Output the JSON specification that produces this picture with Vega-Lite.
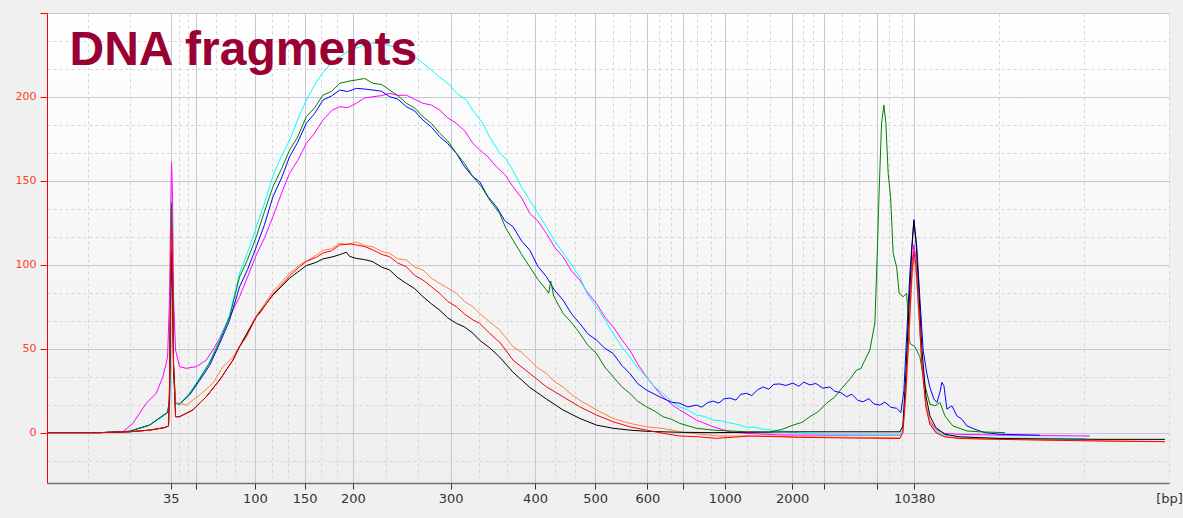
{
"$schema": "https://vega.github.io/schema/vega-lite/v6.json",
"width": 1122, "height": 470,
"autosize": {"type": "none"},
"padding": {"left": 47, "top": 13, "right": 14, "bottom": 35},
"background": "#f0f0f0",
"config": {"view": {"stroke": null, "fill": {"gradient": "linear", "x1": 0, "y1": 0, "x2": 0, "y2": 1, "stops": [{"offset": 0, "color": "#ffffff"}, {"offset": 1, "color": "#eeeeee"}]}}},
"layer": [
{
"data": {"values": [
{"s":"magenta","t":44.8,"v":0},{"s":"magenta","t":50,"v":0},{"s":"magenta","t":52.33,"v":0.5},{"s":"magenta","t":53.33,"v":5.5},{"s":"magenta","t":54,"v":11.5},{"s":"magenta","t":54.67,"v":17.5},{"s":"magenta","t":55.67,"v":23.4},{"s":"magenta","t":56.33,"v":33.3},{"s":"magenta","t":56.67,"v":41.3},{"s":"magenta","t":56.8,"v":45},{"s":"magenta","t":57,"v":80},{"s":"magenta","t":57.1,"v":130},{"s":"magenta","t":57.2,"v":161},{"s":"magenta","t":57.3,"v":140},{"s":"magenta","t":57.4,"v":80},{"s":"magenta","t":57.6,"v":49.2},{"s":"magenta","t":58,"v":39.3},{"s":"magenta","t":58.67,"v":38.3},{"s":"magenta","t":59.67,"v":39.3},{"s":"magenta","t":60.67,"v":43.2},{"s":"magenta","t":61.33,"v":49.2},{"s":"magenta","t":62,"v":56.2},{"s":"magenta","t":63.33,"v":73},{"s":"magenta","t":64,"v":81},{"s":"magenta","t":64.67,"v":90.9},{"s":"magenta","t":65.67,"v":105.8},{"s":"magenta","t":66.5,"v":116.2},{"s":"magenta","t":67.33,"v":128.6},{"s":"magenta","t":68.2,"v":142.8},{"s":"magenta","t":69,"v":154.5},{"s":"magenta","t":69.8,"v":162.1},{"s":"magenta","t":70.67,"v":172.3},{"s":"magenta","t":71.5,"v":178.4},{"s":"magenta","t":72.33,"v":186.2},{"s":"magenta","t":73.2,"v":191.9},{"s":"magenta","t":74,"v":194.2},{"s":"magenta","t":74.8,"v":193.6},{"s":"magenta","t":75.67,"v":196.2},{"s":"magenta","t":76.5,"v":199.4},{"s":"magenta","t":77.33,"v":200.1},{"s":"magenta","t":78.2,"v":200.8},{"s":"magenta","t":79,"v":202.1},{"s":"magenta","t":79.8,"v":200.9},{"s":"magenta","t":80.67,"v":201.1},{"s":"magenta","t":81.5,"v":198.6},{"s":"magenta","t":82.33,"v":196.2},{"s":"magenta","t":83.2,"v":195.1},{"s":"magenta","t":84,"v":192.2},{"s":"magenta","t":84.8,"v":187.6},{"s":"magenta","t":85.67,"v":184.3},{"s":"magenta","t":86.5,"v":179.8},{"s":"magenta","t":87.33,"v":172.3},{"s":"magenta","t":88,"v":168.4},{"s":"magenta","t":88.8,"v":164.5},{"s":"magenta","t":89.67,"v":158.4},{"s":"magenta","t":90.5,"v":153.8},{"s":"magenta","t":91.33,"v":146.5},{"s":"magenta","t":92.2,"v":139.8},{"s":"magenta","t":93,"v":130.6},{"s":"magenta","t":93.8,"v":126.2},{"s":"magenta","t":94.67,"v":118.7},{"s":"magenta","t":95.5,"v":110.3},{"s":"magenta","t":96.33,"v":104.8},{"s":"magenta","t":97.2,"v":96.1},{"s":"magenta","t":98,"v":90.9},{"s":"magenta","t":98.8,"v":83.2},{"s":"magenta","t":99.67,"v":77},{"s":"magenta","t":100.5,"v":68.9},{"s":"magenta","t":101.33,"v":63.1},{"s":"magenta","t":102.2,"v":55.4},{"s":"magenta","t":103,"v":49.2},{"s":"magenta","t":103.8,"v":40.8},{"s":"magenta","t":104.67,"v":33.3},{"s":"magenta","t":105.5,"v":26.9},{"s":"magenta","t":106.33,"v":21.4},{"s":"magenta","t":107.2,"v":16.8},{"s":"magenta","t":108,"v":13.5},{"s":"magenta","t":109.67,"v":7.5},{"s":"magenta","t":111.33,"v":3.5},{"s":"magenta","t":113,"v":0.5},{"s":"magenta","t":114.67,"v":-0.4},{"s":"magenta","t":118,"v":-1.4},{"s":"magenta","t":125,"v":-1.5},{"s":"magenta","t":130,"v":-1.5},{"s":"magenta","t":130.3,"v":2},{"s":"magenta","t":130.6,"v":30},{"s":"magenta","t":130.9,"v":70},{"s":"magenta","t":131.2,"v":100},{"s":"magenta","t":131.4,"v":112},{"s":"magenta","t":131.6,"v":104},{"s":"magenta","t":131.9,"v":75},{"s":"magenta","t":132.2,"v":42},{"s":"magenta","t":132.6,"v":17},{"s":"magenta","t":133,"v":7},{"s":"magenta","t":133.6,"v":2},{"s":"magenta","t":134.5,"v":-0.5},{"s":"magenta","t":136,"v":-1},{"s":"magenta","t":140,"v":-1.5},{"s":"magenta","t":145,"v":-1.8},{"s":"magenta","t":149,"v":-2},
{"s":"cyan","t":44.8,"v":0},{"s":"cyan","t":50,"v":0},{"s":"cyan","t":52,"v":0.3},{"s":"cyan","t":53,"v":0.8},{"s":"cyan","t":55,"v":4.5},{"s":"cyan","t":56.3,"v":9.5},{"s":"cyan","t":56.8,"v":12},{"s":"cyan","t":57,"v":18},{"s":"cyan","t":57.1,"v":70},{"s":"cyan","t":57.2,"v":118},{"s":"cyan","t":57.3,"v":90},{"s":"cyan","t":57.4,"v":35},{"s":"cyan","t":57.6,"v":17.6},{"s":"cyan","t":58,"v":17},{"s":"cyan","t":59,"v":23.6},{"s":"cyan","t":60,"v":32.5},{"s":"cyan","t":61,"v":42.1},{"s":"cyan","t":62,"v":55.2},{"s":"cyan","t":63,"v":70.1},{"s":"cyan","t":64,"v":95.1},{"s":"cyan","t":65,"v":110.6},{"s":"cyan","t":65.67,"v":122.5},{"s":"cyan","t":66.5,"v":136.8},{"s":"cyan","t":67.3,"v":152.3},{"s":"cyan","t":68,"v":162.4},{"s":"cyan","t":69,"v":174.3},{"s":"cyan","t":70,"v":189.2},{"s":"cyan","t":70.67,"v":198.1},{"s":"cyan","t":71.5,"v":207.1},{"s":"cyan","t":72.3,"v":214.2},{"s":"cyan","t":73,"v":219},{"s":"cyan","t":74,"v":223.8},{"s":"cyan","t":75,"v":227.9},{"s":"cyan","t":75.67,"v":229.1},{"s":"cyan","t":76.5,"v":230.9},{"s":"cyan","t":77.3,"v":232.1},{"s":"cyan","t":78.5,"v":231.5},{"s":"cyan","t":79.5,"v":229.7},{"s":"cyan","t":80.67,"v":227.9},{"s":"cyan","t":81.67,"v":223.2},{"s":"cyan","t":82.3,"v":220.2},{"s":"cyan","t":83.2,"v":215.9},{"s":"cyan","t":84,"v":211.8},{"s":"cyan","t":85,"v":207.1},{"s":"cyan","t":85.67,"v":202.3},{"s":"cyan","t":86.67,"v":198.1},{"s":"cyan","t":87.3,"v":192.2},{"s":"cyan","t":88.3,"v":184.4},{"s":"cyan","t":89,"v":176.1},{"s":"cyan","t":90,"v":166.6},{"s":"cyan","t":90.6,"v":163.2},{"s":"cyan","t":91.3,"v":156.5},{"s":"cyan","t":92.2,"v":146.1},{"s":"cyan","t":93,"v":138.6},{"s":"cyan","t":93.8,"v":130.9},{"s":"cyan","t":94.67,"v":122.5},{"s":"cyan","t":95.5,"v":114.1},{"s":"cyan","t":96.3,"v":107.6},{"s":"cyan","t":97.2,"v":99.8},{"s":"cyan","t":98,"v":92.7},{"s":"cyan","t":98.8,"v":82.1},{"s":"cyan","t":99.67,"v":74.8},{"s":"cyan","t":100.5,"v":67.4},{"s":"cyan","t":101.3,"v":59.3},{"s":"cyan","t":102.2,"v":51.2},{"s":"cyan","t":103,"v":45},{"s":"cyan","t":103.8,"v":38.6},{"s":"cyan","t":104.67,"v":33.1},{"s":"cyan","t":105.5,"v":27.2},{"s":"cyan","t":106.3,"v":23.6},{"s":"cyan","t":107.2,"v":18.4},{"s":"cyan","t":108,"v":15.2},{"s":"cyan","t":108.8,"v":13.6},{"s":"cyan","t":109.67,"v":10.5},{"s":"cyan","t":110.5,"v":9.6},{"s":"cyan","t":111.3,"v":7.5},{"s":"cyan","t":112.1,"v":7.1},{"s":"cyan","t":113,"v":5.7},{"s":"cyan","t":113.8,"v":4.9},{"s":"cyan","t":114.67,"v":3.3},{"s":"cyan","t":115.5,"v":3.2},{"s":"cyan","t":116.3,"v":2.1},{"s":"cyan","t":118,"v":1},{"s":"cyan","t":120,"v":-0.2},{"s":"cyan","t":123,"v":-1.1},{"s":"cyan","t":127,"v":-1.4},{"s":"cyan","t":130,"v":-1.5},{"s":"cyan","t":130.3,"v":2},{"s":"cyan","t":130.6,"v":30},{"s":"cyan","t":130.9,"v":65},{"s":"cyan","t":131.2,"v":95},{"s":"cyan","t":131.4,"v":106},{"s":"cyan","t":131.6,"v":98},{"s":"cyan","t":131.9,"v":70},{"s":"cyan","t":132.2,"v":40},{"s":"cyan","t":132.6,"v":16},{"s":"cyan","t":133,"v":6},{"s":"cyan","t":133.6,"v":1},{"s":"cyan","t":134.5,"v":-1.5},{"s":"cyan","t":136,"v":-2.5},{"s":"cyan","t":139,"v":-3},{"s":"cyan","t":144,"v":-3.3},{"s":"cyan","t":148.5,"v":-3.5},
{"s":"blue","t":44.8,"v":0},{"s":"blue","t":50,"v":0},{"s":"blue","t":53,"v":0.8},{"s":"blue","t":55,"v":4.5},{"s":"blue","t":56.3,"v":10},{"s":"blue","t":56.8,"v":12},{"s":"blue","t":57,"v":18},{"s":"blue","t":57.1,"v":70},{"s":"blue","t":57.2,"v":125},{"s":"blue","t":57.3,"v":95},{"s":"blue","t":57.4,"v":38},{"s":"blue","t":57.6,"v":17.5},{"s":"blue","t":58,"v":17},{"s":"blue","t":59,"v":22.5},{"s":"blue","t":60,"v":31},{"s":"blue","t":61,"v":40},{"s":"blue","t":62,"v":53},{"s":"blue","t":63,"v":67},{"s":"blue","t":64,"v":86.9},{"s":"blue","t":64.8,"v":97.2},{"s":"blue","t":65.67,"v":110.7},{"s":"blue","t":66.5,"v":124.1},{"s":"blue","t":67.33,"v":140.5},{"s":"blue","t":68.2,"v":151.8},{"s":"blue","t":69,"v":164.4},{"s":"blue","t":69.8,"v":172.9},{"s":"blue","t":70.67,"v":184.3},{"s":"blue","t":71.5,"v":190.2},{"s":"blue","t":72.33,"v":198.1},{"s":"blue","t":73.2,"v":200.6},{"s":"blue","t":74,"v":204.1},{"s":"blue","t":74.8,"v":203.2},{"s":"blue","t":75.67,"v":205.1},{"s":"blue","t":76.5,"v":204.7},{"s":"blue","t":77.33,"v":204.1},{"s":"blue","t":78.2,"v":203.4},{"s":"blue","t":79,"v":200.1},{"s":"blue","t":79.8,"v":198.8},{"s":"blue","t":80.67,"v":194.2},{"s":"blue","t":81.5,"v":191.6},{"s":"blue","t":82.33,"v":186.2},{"s":"blue","t":83.2,"v":181.9},{"s":"blue","t":84,"v":176.3},{"s":"blue","t":84.8,"v":172.2},{"s":"blue","t":85.67,"v":166.4},{"s":"blue","t":86.5,"v":158.3},{"s":"blue","t":87.33,"v":152.4},{"s":"blue","t":88,"v":149.5},{"s":"blue","t":88.8,"v":140.8},{"s":"blue","t":89.67,"v":134.6},{"s":"blue","t":90.5,"v":126.3},{"s":"blue","t":91.33,"v":122.7},{"s":"blue","t":92.2,"v":114.1},{"s":"blue","t":93,"v":108.8},{"s":"blue","t":93.8,"v":99.2},{"s":"blue","t":94.67,"v":92.9},{"s":"blue","t":95.5,"v":84.7},{"s":"blue","t":96.33,"v":79},{"s":"blue","t":97.2,"v":70.6},{"s":"blue","t":98,"v":65.1},{"s":"blue","t":98.8,"v":58.9},{"s":"blue","t":99.67,"v":55.2},{"s":"blue","t":100.5,"v":50.3},{"s":"blue","t":101.33,"v":47.2},{"s":"blue","t":102.2,"v":40.1},{"s":"blue","t":103,"v":35.3},{"s":"blue","t":103.8,"v":29.2},{"s":"blue","t":104.67,"v":25.4},{"s":"blue","t":105.5,"v":22.8},{"s":"blue","t":106.33,"v":20.4},{"s":"blue","t":107.2,"v":18.1},{"s":"blue","t":108,"v":17.5},{"s":"blue","t":108.8,"v":15.3},{"s":"blue","t":109.67,"v":16.4},{"s":"blue","t":110.2,"v":15.2},{"s":"blue","t":110.8,"v":17.9},{"s":"blue","t":111.33,"v":18.8},{"s":"blue","t":111.9,"v":17.6},{"s":"blue","t":112.4,"v":20.1},{"s":"blue","t":113,"v":20.6},{"s":"blue","t":113.6,"v":19.4},{"s":"blue","t":114.1,"v":22.8},{"s":"blue","t":114.67,"v":23.4},{"s":"blue","t":115.2,"v":22.1},{"s":"blue","t":115.8,"v":25.6},{"s":"blue","t":116.33,"v":27.2},{"s":"blue","t":116.9,"v":25.9},{"s":"blue","t":117.4,"v":28.8},{"s":"blue","t":118,"v":29},{"s":"blue","t":118.6,"v":28.1},{"s":"blue","t":119.3,"v":29.5},{"s":"blue","t":119.9,"v":27.6},{"s":"blue","t":120.4,"v":30.1},{"s":"blue","t":121,"v":28.4},{"s":"blue","t":121.6,"v":29.3},{"s":"blue","t":122.3,"v":26.5},{"s":"blue","t":123,"v":27.2},{"s":"blue","t":123.5,"v":24.6},{"s":"blue","t":124.1,"v":23.8},{"s":"blue","t":124.67,"v":21.4},{"s":"blue","t":125.2,"v":22.9},{"s":"blue","t":125.8,"v":19.2},{"s":"blue","t":126.33,"v":18.4},{"s":"blue","t":126.9,"v":20.3},{"s":"blue","t":127.4,"v":17.1},{"s":"blue","t":128,"v":16.4},{"s":"blue","t":128.5,"v":18.2},{"s":"blue","t":129.1,"v":15.1},{"s":"blue","t":129.67,"v":14.5},{"s":"blue","t":130.1,"v":12},{"s":"blue","t":130.4,"v":25},{"s":"blue","t":130.7,"v":60},{"s":"blue","t":131,"v":95},{"s":"blue","t":131.4,"v":127},{"s":"blue","t":131.7,"v":110},{"s":"blue","t":132,"v":80},{"s":"blue","t":132.33,"v":49},{"s":"blue","t":132.7,"v":35},{"s":"blue","t":133,"v":27},{"s":"blue","t":133.4,"v":20},{"s":"blue","t":133.7,"v":18},{"s":"blue","t":134,"v":24},{"s":"blue","t":134.2,"v":30},{"s":"blue","t":134.4,"v":28},{"s":"blue","t":134.7,"v":14},{"s":"blue","t":135.2,"v":16},{"s":"blue","t":135.7,"v":10},{"s":"blue","t":136.2,"v":8},{"s":"blue","t":136.7,"v":4},{"s":"blue","t":137.5,"v":2},{"s":"blue","t":138.5,"v":0},{"s":"blue","t":140,"v":-1},{"s":"blue","t":144,"v":-1.5},
{"s":"green","t":44.8,"v":0},{"s":"green","t":50,"v":0},{"s":"green","t":53,"v":0.8},{"s":"green","t":55,"v":4.5},{"s":"green","t":56.3,"v":10},{"s":"green","t":56.8,"v":12},{"s":"green","t":57,"v":20},{"s":"green","t":57.1,"v":80},{"s":"green","t":57.2,"v":137},{"s":"green","t":57.3,"v":100},{"s":"green","t":57.4,"v":40},{"s":"green","t":57.6,"v":17.5},{"s":"green","t":58,"v":17},{"s":"green","t":59,"v":23},{"s":"green","t":60,"v":32},{"s":"green","t":61,"v":41.5},{"s":"green","t":62,"v":54.5},{"s":"green","t":63,"v":69},{"s":"green","t":64,"v":92.9},{"s":"green","t":64.8,"v":103.1},{"s":"green","t":65.67,"v":116.7},{"s":"green","t":66.5,"v":131.9},{"s":"green","t":67.33,"v":146.5},{"s":"green","t":68.2,"v":157.2},{"s":"green","t":69,"v":168.4},{"s":"green","t":69.8,"v":176.1},{"s":"green","t":70.67,"v":188.2},{"s":"green","t":71.5,"v":193.5},{"s":"green","t":72.33,"v":201.1},{"s":"green","t":73.2,"v":203.3},{"s":"green","t":74,"v":208.1},{"s":"green","t":75,"v":209.5},{"s":"green","t":75.67,"v":210.1},{"s":"green","t":76.5,"v":211},{"s":"green","t":77.33,"v":208.1},{"s":"green","t":78.2,"v":207.4},{"s":"green","t":79,"v":204.1},{"s":"green","t":79.8,"v":200.9},{"s":"green","t":80.67,"v":196.2},{"s":"green","t":81.5,"v":193.4},{"s":"green","t":82.33,"v":188.2},{"s":"green","t":83.2,"v":184.1},{"s":"green","t":84,"v":178.3},{"s":"green","t":84.8,"v":173.8},{"s":"green","t":85.67,"v":166.4},{"s":"green","t":86.5,"v":160.2},{"s":"green","t":87.33,"v":152.4},{"s":"green","t":88.2,"v":146.3},{"s":"green","t":89,"v":138.6},{"s":"green","t":90,"v":130.5},{"s":"green","t":90.6,"v":121.9},{"s":"green","t":91.33,"v":114.7},{"s":"green","t":92.2,"v":106.1},{"s":"green","t":93,"v":98.8},{"s":"green","t":93.8,"v":91.4},{"s":"green","t":94.67,"v":85},{"s":"green","t":94.9,"v":83.1},{"s":"green","t":95.1,"v":90.3},{"s":"green","t":95.4,"v":81.4},{"s":"green","t":96.33,"v":71.1},{"s":"green","t":97.2,"v":65.4},{"s":"green","t":98,"v":59.2},{"s":"green","t":98.8,"v":52.1},{"s":"green","t":99.67,"v":47.2},{"s":"green","t":100.5,"v":39.1},{"s":"green","t":101.33,"v":33.3},{"s":"green","t":102.2,"v":27.4},{"s":"green","t":103,"v":23.4},{"s":"green","t":103.8,"v":18.7},{"s":"green","t":104.67,"v":15.4},{"s":"green","t":105.5,"v":12.8},{"s":"green","t":106.33,"v":9.5},{"s":"green","t":107.2,"v":7.9},{"s":"green","t":108,"v":5.5},{"s":"green","t":109.67,"v":2.6},{"s":"green","t":111.33,"v":1.5},{"s":"green","t":114.67,"v":0.5},{"s":"green","t":117,"v":0.3},{"s":"green","t":118.2,"v":1.9},{"s":"green","t":119.33,"v":4.5},{"s":"green","t":120.2,"v":6.1},{"s":"green","t":121,"v":9.5},{"s":"green","t":121.8,"v":12.4},{"s":"green","t":122.67,"v":17.5},{"s":"green","t":123.5,"v":21.3},{"s":"green","t":124.33,"v":27.3},{"s":"green","t":125,"v":31.9},{"s":"green","t":125.67,"v":37.3},{"s":"green","t":126.1,"v":38.2},{"s":"green","t":126.5,"v":43.2},{"s":"green","t":127,"v":49.2},{"s":"green","t":127.5,"v":65.3},{"s":"green","t":127.73,"v":104.8},{"s":"green","t":127.93,"v":144.5},{"s":"green","t":128.17,"v":184.3},{"s":"green","t":128.4,"v":195.2},{"s":"green","t":128.6,"v":184.3},{"s":"green","t":128.83,"v":154.5},{"s":"green","t":129.07,"v":140.5},{"s":"green","t":129.33,"v":106.8},{"s":"green","t":129.67,"v":98.8},{"s":"green","t":129.93,"v":83},{"s":"green","t":130.33,"v":81},{"s":"green","t":130.67,"v":83},{"s":"green","t":131,"v":53.2},{"s":"green","t":131.5,"v":51.2},{"s":"green","t":132,"v":45.2},{"s":"green","t":132.5,"v":28},{"s":"green","t":133,"v":17},{"s":"green","t":133.5,"v":16},{"s":"green","t":134,"v":18},{"s":"green","t":134.5,"v":10},{"s":"green","t":135.3,"v":4},{"s":"green","t":136.7,"v":1},{"s":"green","t":138,"v":0.5},{"s":"green","t":140.5,"v":0},
{"s":"orange","t":44.8,"v":0},{"s":"orange","t":50,"v":0},{"s":"orange","t":53,"v":0.5},{"s":"orange","t":55,"v":1.5},{"s":"orange","t":56.5,"v":3},{"s":"orange","t":56.9,"v":4},{"s":"orange","t":57,"v":28},{"s":"orange","t":57.1,"v":85},{"s":"orange","t":57.2,"v":118},{"s":"orange","t":57.3,"v":90},{"s":"orange","t":57.4,"v":40},{"s":"orange","t":57.6,"v":17.6},{"s":"orange","t":58,"v":17.5},{"s":"orange","t":58.67,"v":16.4},{"s":"orange","t":60,"v":22.4},{"s":"orange","t":61.33,"v":29.4},{"s":"orange","t":62.33,"v":39.3},{"s":"orange","t":63.33,"v":45},{"s":"orange","t":64,"v":51.5},{"s":"orange","t":65.67,"v":69.5},{"s":"orange","t":67.33,"v":84},{"s":"orange","t":69,"v":95},{"s":"orange","t":70,"v":100},{"s":"orange","t":71.2,"v":103.9},{"s":"orange","t":72.33,"v":108.5},{"s":"orange","t":73.2,"v":109.6},{"s":"orange","t":74,"v":112.8},{"s":"orange","t":74.8,"v":111.9},{"s":"orange","t":75.67,"v":113.7},{"s":"orange","t":76.5,"v":111.4},{"s":"orange","t":77.33,"v":110.7},{"s":"orange","t":78.2,"v":107.9},{"s":"orange","t":79,"v":106.8},{"s":"orange","t":79.8,"v":103.6},{"s":"orange","t":80.67,"v":102.8},{"s":"orange","t":81.5,"v":98.6},{"s":"orange","t":82.33,"v":96.9},{"s":"orange","t":83.2,"v":91.8},{"s":"orange","t":84,"v":88.9},{"s":"orange","t":84.8,"v":86.1},{"s":"orange","t":85.67,"v":83},{"s":"orange","t":86.5,"v":78.1},{"s":"orange","t":87.33,"v":75},{"s":"orange","t":88,"v":71},{"s":"orange","t":89,"v":66},{"s":"orange","t":90,"v":61.1},{"s":"orange","t":90.6,"v":56.7},{"s":"orange","t":91.33,"v":51.2},{"s":"orange","t":92.2,"v":47.8},{"s":"orange","t":93,"v":43.2},{"s":"orange","t":93.8,"v":38.6},{"s":"orange","t":94.67,"v":35.3},{"s":"orange","t":95.5,"v":30.2},{"s":"orange","t":96.33,"v":27.3},{"s":"orange","t":97.2,"v":22.6},{"s":"orange","t":98,"v":19.4},{"s":"orange","t":99.67,"v":13.5},{"s":"orange","t":101.33,"v":8.5},{"s":"orange","t":103,"v":5.5},{"s":"orange","t":104.67,"v":3.5},{"s":"orange","t":106.33,"v":2.5},{"s":"orange","t":108,"v":0.5},{"s":"orange","t":110,"v":-1},{"s":"orange","t":112,"v":-2},{"s":"orange","t":116,"v":-2},{"s":"orange","t":120,"v":-2.5},{"s":"orange","t":125,"v":-2.8},{"s":"orange","t":130,"v":-3},{"s":"orange","t":130.3,"v":0},{"s":"orange","t":130.6,"v":22},{"s":"orange","t":130.9,"v":55},{"s":"orange","t":131.2,"v":90},{"s":"orange","t":131.4,"v":104},{"s":"orange","t":131.6,"v":98},{"s":"orange","t":131.9,"v":72},{"s":"orange","t":132.2,"v":42},{"s":"orange","t":132.6,"v":17},{"s":"orange","t":133,"v":6},{"s":"orange","t":133.6,"v":0},{"s":"orange","t":134.5,"v":-2.5},{"s":"orange","t":136,"v":-3.3},{"s":"orange","t":140,"v":-4},{"s":"orange","t":150,"v":-4.8},{"s":"orange","t":156.5,"v":-5.3},
{"s":"black","t":44.8,"v":0},{"s":"black","t":50,"v":0},{"s":"black","t":53,"v":0.5},{"s":"black","t":55,"v":1.5},{"s":"black","t":56.5,"v":3},{"s":"black","t":56.9,"v":4},{"s":"black","t":57,"v":25},{"s":"black","t":57.1,"v":80},{"s":"black","t":57.2,"v":108},{"s":"black","t":57.3,"v":85},{"s":"black","t":57.4,"v":40},{"s":"black","t":57.6,"v":9.5},{"s":"black","t":58,"v":9.5},{"s":"black","t":59.33,"v":13.5},{"s":"black","t":60.67,"v":21.4},{"s":"black","t":62,"v":31.3},{"s":"black","t":63.33,"v":43.2},{"s":"black","t":64,"v":51.2},{"s":"black","t":65.67,"v":69},{"s":"black","t":67.33,"v":82},{"s":"black","t":69,"v":92},{"s":"black","t":70,"v":96.5},{"s":"black","t":70.67,"v":99.5},{"s":"black","t":71.67,"v":101.5},{"s":"black","t":72.33,"v":103.5},{"s":"black","t":73.33,"v":104.8},{"s":"black","t":74,"v":106},{"s":"black","t":74.67,"v":107.5},{"s":"black","t":75,"v":105},{"s":"black","t":75.67,"v":103.8},{"s":"black","t":76.5,"v":103.1},{"s":"black","t":77.33,"v":101.8},{"s":"black","t":78.2,"v":98.6},{"s":"black","t":79,"v":96.9},{"s":"black","t":79.8,"v":92.4},{"s":"black","t":80.67,"v":88.9},{"s":"black","t":81.5,"v":85.8},{"s":"black","t":82.33,"v":81},{"s":"black","t":83.2,"v":76.6},{"s":"black","t":84,"v":73},{"s":"black","t":84.8,"v":68.4},{"s":"black","t":85.67,"v":65.1},{"s":"black","t":86.5,"v":62.9},{"s":"black","t":87.33,"v":59.2},{"s":"black","t":88,"v":55},{"s":"black","t":89,"v":50.5},{"s":"black","t":90,"v":45},{"s":"black","t":91.33,"v":36},{"s":"black","t":93,"v":27},{"s":"black","t":94.67,"v":20},{"s":"black","t":96.33,"v":13.5},{"s":"black","t":98,"v":8.5},{"s":"black","t":99.67,"v":4.5},{"s":"black","t":101.33,"v":2.6},{"s":"black","t":103,"v":1.5},{"s":"black","t":104.67,"v":0.8},{"s":"black","t":108,"v":0.2},{"s":"black","t":111.3,"v":0},{"s":"black","t":116,"v":0.3},{"s":"black","t":120,"v":0.5},{"s":"black","t":125,"v":0.5},{"s":"black","t":130,"v":0.5},{"s":"black","t":130.3,"v":4},{"s":"black","t":130.6,"v":35},{"s":"black","t":130.9,"v":75},{"s":"black","t":131.2,"v":110},{"s":"black","t":131.4,"v":126},{"s":"black","t":131.6,"v":115},{"s":"black","t":131.9,"v":85},{"s":"black","t":132.2,"v":50},{"s":"black","t":132.6,"v":22},{"s":"black","t":133,"v":10},{"s":"black","t":133.6,"v":3},{"s":"black","t":134.5,"v":-1},{"s":"black","t":136,"v":-2.5},{"s":"black","t":140,"v":-3.5},{"s":"black","t":150,"v":-4},{"s":"black","t":156.5,"v":-4},
{"s":"red","t":44.8,"v":0},{"s":"red","t":50,"v":0},{"s":"red","t":53,"v":0.5},{"s":"red","t":55,"v":1.5},{"s":"red","t":56.5,"v":3},{"s":"red","t":56.9,"v":4},{"s":"red","t":57,"v":30},{"s":"red","t":57.1,"v":90},{"s":"red","t":57.2,"v":122},{"s":"red","t":57.3,"v":95},{"s":"red","t":57.4,"v":40},{"s":"red","t":57.6,"v":9.5},{"s":"red","t":58,"v":9.5},{"s":"red","t":59.33,"v":13.5},{"s":"red","t":60.67,"v":21.4},{"s":"red","t":62,"v":31.3},{"s":"red","t":63.33,"v":43.2},{"s":"red","t":64,"v":51.2},{"s":"red","t":64.67,"v":57.1},{"s":"red","t":65.67,"v":69},{"s":"red","t":66,"v":71},{"s":"red","t":67.33,"v":82.5},{"s":"red","t":68.67,"v":91},{"s":"red","t":69,"v":93.5},{"s":"red","t":70,"v":98.8},{"s":"red","t":70.67,"v":102},{"s":"red","t":71.67,"v":104.5},{"s":"red","t":72.33,"v":107},{"s":"red","t":73.2,"v":108.4},{"s":"red","t":74,"v":111.8},{"s":"red","t":75,"v":112.5},{"s":"red","t":75.67,"v":111.8},{"s":"red","t":76.5,"v":110.9},{"s":"red","t":77.33,"v":108.8},{"s":"red","t":78.2,"v":106.2},{"s":"red","t":79,"v":104.8},{"s":"red","t":79.8,"v":101.1},{"s":"red","t":80.67,"v":98.8},{"s":"red","t":81.5,"v":93.7},{"s":"red","t":82.33,"v":90.9},{"s":"red","t":83.2,"v":86.8},{"s":"red","t":84,"v":83},{"s":"red","t":84.8,"v":78.2},{"s":"red","t":85.67,"v":75},{"s":"red","t":86.5,"v":70.6},{"s":"red","t":87.33,"v":67.1},{"s":"red","t":88,"v":65.1},{"s":"red","t":89,"v":59.2},{"s":"red","t":89.67,"v":55.5},{"s":"red","t":90,"v":54},{"s":"red","t":91.33,"v":43.2},{"s":"red","t":93,"v":35.3},{"s":"red","t":94.67,"v":27.3},{"s":"red","t":96.33,"v":21.4},{"s":"red","t":98,"v":15.4},{"s":"red","t":99.67,"v":10.5},{"s":"red","t":101.33,"v":6.5},{"s":"red","t":103,"v":3.5},{"s":"red","t":104.67,"v":1.5},{"s":"red","t":106.33,"v":-0.4},{"s":"red","t":108,"v":-2},{"s":"red","t":109.67,"v":-2.4},{"s":"red","t":111.67,"v":-3.4},{"s":"red","t":115,"v":-2},{"s":"red","t":120,"v":-2.8},{"s":"red","t":125,"v":-3.2},{"s":"red","t":130,"v":-3.5},{"s":"red","t":130.3,"v":0},{"s":"red","t":130.6,"v":25},{"s":"red","t":130.9,"v":60},{"s":"red","t":131.2,"v":95},{"s":"red","t":131.4,"v":108},{"s":"red","t":131.6,"v":100},{"s":"red","t":131.9,"v":72},{"s":"red","t":132.2,"v":40},{"s":"red","t":132.6,"v":15},{"s":"red","t":133,"v":5},{"s":"red","t":133.6,"v":0},{"s":"red","t":134.5,"v":-2.5},{"s":"red","t":136,"v":-3.5},{"s":"red","t":140,"v":-4},{"s":"red","t":145,"v":-4.5},{"s":"red","t":150,"v":-5},{"s":"red","t":156.5,"v":-5.4}
]},
"mark": {"type": "line", "strokeWidth": 1, "clip": true},
"encoding": {
"x": {"field": "t", "type": "quantitative", "scale": {"domain": [44.75, 156.9], "nice": false, "zero": false},
 "axis": {"title": null, "tickCount": 500,
  "values": [48.88,53.0,57.13,57.96,58.8,59.63,61.6,63.56,65.53,67.19,68.84,70.5,72.11,73.72,75.33,78.59,81.84,85.1,87.91,90.72,93.53,95.53,97.53,99.53,101.28,103.02,104.77,105.96,107.14,108.33,109.72,111.11,112.5,114.74,116.99,119.23,120.3,121.36,122.43,124.2,125.96,127.73,128.96,130.2,131.43,139.92,148.41,156.9],
  "grid": true,
  "gridColor": {"condition": {"test": "indexof([57.13,59.63,65.53,70.5,75.33,85.1,93.53,99.53,104.77,108.33,112.5,119.23,122.43,127.73,131.43], datum.value) >= 0", "value": "#c2c9d5"}, "value": "#d6d6d6"},
  "gridDash": {"condition": {"test": "indexof([57.13,59.63,65.53,70.5,75.33,85.1,93.53,99.53,104.77,108.33,112.5,119.23,122.43,127.73,131.43], datum.value) >= 0", "value": []}, "value": [3, 3]},
  "tickOpacity": {"condition": {"test": "indexof([57.13,59.63,65.53,70.5,75.33,85.1,93.53,99.53,104.77,108.33,112.5,119.23,122.43,127.73,131.43], datum.value) >= 0", "value": 1}, "value": 0},
  "tickColor": "#333333", "tickSize": 6,
  "domainColor": "#707070", "domainWidth": 1.5,
  "labelExpr": "['35','100','150','200','300','400','500','600','1000','2000','10380','[bp]'][indexof([57.13,65.53,70.5,75.33,85.1,93.53,99.53,104.77,112.5,119.23,131.43,156.9], datum.value)] || ''",
  "labelFont": "DejaVu Sans", "labelFontSize": 13, "labelColor": "#333333", "labelPadding": 3,
  "labelOverlap": false, "labelFlush": false, "labelBound": false}},
"y": {"field": "v", "type": "quantitative", "scale": {"domain": [-30, 250], "nice": false, "zero": false},
 "axis": {"title": null, "tickCount": 500, "format": "d",
  "values": [-16.6667,0,16.6667,33.3333,50,66.6667,83.3333,100,116.6667,133.3333,150,166.6667,183.3333,200,216.6667,233.3333,250],
  "grid": true,
  "gridColor": {"condition": {"test": "datum.value % 50 == 0", "value": "#c2c9d5"}, "value": "#d6d6d6"},
  "gridDash": {"condition": {"test": "datum.value % 50 == 0", "value": []}, "value": [3, 3]},
  "tickOpacity": {"condition": {"test": "datum.value % 50 == 0", "value": 1}, "value": 0},
  "tickColor": "#ff0000", "tickSize": 7,
  "domainColor": "#ff0000", "domainWidth": 1,
  "labelExpr": "(datum.value % 50 == 0 && datum.value < 250) ? format(datum.value, 'd') : ''",
  "labelFont": "DejaVu Sans", "labelFontSize": 11, "labelColor": "#ff4020", "labelPadding": 4,
  "labelOverlap": false, "labelFlush": false}},
"color": {"field": "s", "type": "nominal",
 "scale": {"domain": ["magenta", "cyan", "blue", "green", "orange", "black", "red"], "range": ["#ff00ff", "#00ffff", "#0000ff", "#008000", "#ff8040", "#000000", "#ff0000"]},
 "legend": null}
}
},
{
"data": {"values": [{"label": "DNA fragments"}]},
"mark": {"type": "text", "align": "left", "baseline": "alphabetic", "font": "Liberation Sans", "fontSize": 48, "fontWeight": "bold", "color": "#990033"},
"encoding": {
"x": {"datum": 47.0, "type": "quantitative"},
"y": {"datum": 219, "type": "quantitative"},
"text": {"field": "label"}
}
}
]
}
